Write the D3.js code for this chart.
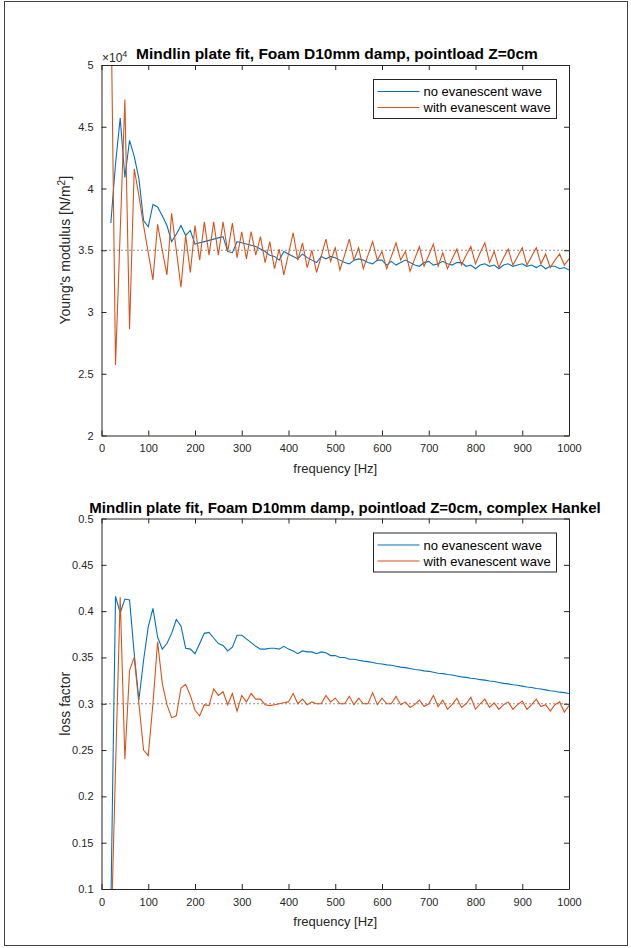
<!DOCTYPE html>
<html>
<head>
<meta charset="utf-8">
<script src="https://cdn.jsdelivr.net/npm/d3@7"></script>
<style>
  body { margin: 0; background: #fff; }
  svg { display: block; font-family: "Liberation Sans", Arial, sans-serif; }
</style>
</head>
<body>
<div id="chart"></div>
<script>

// frequency grid [Hz]
const freq = [20,30,40,50,60,70,80,90,100,110,120,130,140,150,160,170,180,190,200,210,
  220,230,240,250,260,270,280,290,300,310,320,330,340,350,360,370,380,390,400,410,
  420,430,440,450,460,470,480,490,500,510,520,530,540,550,560,570,580,590,600,610,
  620,630,640,650,660,670,680,690,700,710,720,730,740,750,760,770,780,790,800,810,
  820,830,840,850,860,870,880,890,900,910,920,930,940,950,960,970,980,990,1000];

// Young's modulus (x1e4) - no evanescent wave
const youngNoEva = [3.72,4.20,4.57,4.09,4.39,4.26,4.08,3.74,3.69,3.87,
  3.85,3.78,3.70,3.57,3.63,3.70,3.62,3.66,3.55,3.56,
  3.57,3.58,3.59,3.60,3.61,3.49,3.48,3.57,3.56,3.55,
  3.54,3.53,3.51,3.49,3.46,3.45,3.42,3.49,3.47,3.45,
  3.43,3.47,3.44,3.42,3.40,3.45,3.43,3.45,3.44,3.42,
  3.40,3.39,3.42,3.43,3.42,3.40,3.39,3.42,3.42,3.38,
  3.41,3.38,3.40,3.42,3.40,3.38,3.37,3.40,3.41,3.38,
  3.39,3.41,3.39,3.38,3.40,3.40,3.37,3.38,3.35,3.38,
  3.39,3.37,3.38,3.35,3.38,3.39,3.37,3.38,3.39,3.37,
  3.38,3.36,3.38,3.35,3.37,3.37,3.35,3.36,3.34];

// Young's modulus (x1e4) - with evanescent wave
const youngEva = [5.60,2.57,3.65,4.72,2.86,4.16,3.94,3.70,3.48,3.26,
  3.71,3.50,3.30,3.80,3.50,3.20,3.62,3.32,3.70,3.42,
  3.73,3.46,3.73,3.46,3.73,3.49,3.72,3.44,3.65,3.43,
  3.65,3.46,3.61,3.40,3.57,3.35,3.51,3.30,3.47,3.64,
  3.42,3.56,3.36,3.50,3.32,3.45,3.59,3.41,3.52,3.34,
  3.46,3.59,3.42,3.52,3.35,3.46,3.57,3.42,3.49,3.35,
  3.45,3.56,3.42,3.49,3.33,3.43,3.53,3.37,3.46,3.55,
  3.37,3.48,3.35,3.43,3.51,3.38,3.46,3.53,3.39,3.48,
  3.56,3.40,3.49,3.36,3.44,3.51,3.38,3.45,3.52,3.38,
  3.45,3.52,3.39,3.47,3.36,3.42,3.47,3.38,3.43];

// loss factor - no evanescent wave
const lossNoEva = [0.080,0.416,0.398,0.413,0.412,0.354,0.304,0.347,0.383,0.403,
  0.372,0.359,0.365,0.376,0.391,0.384,0.360,0.359,0.354,0.365,
  0.376,0.377,0.371,0.365,0.363,0.357,0.361,0.374,0.374,0.370,
  0.366,0.362,0.359,0.359,0.360,0.360,0.359,0.362,0.359,0.357,
  0.354,0.357,0.356,0.356,0.354,0.356,0.355,0.352,0.352,0.350,
  0.350,0.348,0.348,0.347,0.346,0.3455,0.3445,0.3435,0.343,0.342,
  0.3415,0.3405,0.3395,0.339,0.338,0.337,0.3365,0.3355,0.335,0.334,
  0.333,0.3325,0.3315,0.331,0.330,0.329,0.3285,0.3275,0.327,0.326,
  0.3255,0.3245,0.324,0.323,0.322,0.3215,0.3205,0.320,0.319,0.318,
  0.3175,0.3165,0.316,0.315,0.314,0.3135,0.3125,0.312,0.311];

// loss factor - with evanescent wave
const lossEva = [0.040,0.230,0.415,0.240,0.336,0.350,0.300,0.250,0.244,0.300,
  0.367,0.322,0.299,0.285,0.287,0.317,0.321,0.309,0.293,0.287,
  0.299,0.298,0.316,0.309,0.313,0.299,0.311,0.292,0.309,0.302,
  0.311,0.305,0.305,0.299,0.298,0.299,0.300,0.301,0.302,0.311,
  0.300,0.305,0.299,0.302,0.300,0.300,0.309,0.302,0.306,0.300,
  0.300,0.308,0.299,0.306,0.300,0.300,0.312,0.299,0.306,0.300,
  0.300,0.308,0.299,0.302,0.296,0.299,0.304,0.297,0.300,0.309,
  0.297,0.304,0.294,0.299,0.306,0.296,0.300,0.307,0.294,0.300,
  0.305,0.296,0.301,0.294,0.299,0.302,0.294,0.299,0.303,0.294,
  0.299,0.305,0.297,0.299,0.292,0.299,0.302,0.291,0.298];

const xTicks = [0,100,200,300,400,500,600,700,800,900,1000];
const youngTicks = [2,2.5,3,3.5,4,4.5,5];
const lossTicks = [0.1,0.15,0.2,0.25,0.3,0.35,0.4,0.45,0.5];
const seriesNames = ['no evanescent wave', 'with evanescent wave'];
const seriesColors = ['#0072BD', '#D95319'];

const width = 631;
const height = 948;
const left = 101.5;
const right = 569;
const plotH = 370.5;

const svg = d3.select('#chart')
              .append('svg')
              .attr('width', width)
              .attr('height', height);

svg.append('rect')
   .attr('x', 4.5).attr('y', 1.5)
   .attr('width', 623).attr('height', 944)
   .attr('fill', 'none')
   .attr('stroke', '#444')
   .attr('stroke-width', 1);

const x = d3.scaleLinear().domain([0, 1000]).range([left, right]);

const drawPanel = (id, top, yDomain, yTicks, series, refValue, title, titleSize, titleX, ylabel) => {
  const y = d3.scaleLinear().domain(yDomain).range([top + plotH, top]);
  const g = svg.append('g').attr('id', id);

  g.append('clipPath').attr('id', 'clip-' + id)
   .append('rect')
   .attr('x', left).attr('y', top)
   .attr('width', right - left).attr('height', plotH);

  // reference dotted line
  g.append('line')
   .attr('x1', x(0)).attr('x2', x(1000))
   .attr('y1', y(refValue)).attr('y2', y(refValue))
   .attr('stroke', '#222')
   .attr('stroke-width', 1)
   .attr('stroke-dasharray', '1,3');

  const line = d3.line()
                 .x((d, i) => x(freq[i]))
                 .y((d) => y(d));

  series.forEach((s, k) => {
    g.append('path')
     .datum(s)
     .attr('clip-path', 'url(#clip-' + id + ')')
     .attr('d', line)
     .attr('fill', 'none')
     .attr('stroke', seriesColors[k])
     .attr('stroke-width', 1.1);
  });

  // axes, ticks inside on all four sides
  const styleAxis = (sel) => {
    sel.select('.domain').attr('stroke', '#262626').attr('stroke-width', 1);
    sel.selectAll('.tick line').attr('stroke', '#262626');
    sel.selectAll('.tick text').attr('fill', '#262626').style('font-size', '11px');
  };

  g.append('g')
   .attr('transform', 'translate(0,' + (top + plotH) + ')')
   .call(d3.axisBottom(x).tickValues(xTicks).tickSizeInner(-5).tickSizeOuter(0)
           .tickPadding(9).tickFormat(d3.format('d')))
   .call(styleAxis);

  g.append('g')
   .attr('transform', 'translate(0,' + top + ')')
   .call(d3.axisTop(x).tickValues(xTicks).tickSizeInner(-5).tickSizeOuter(0).tickFormat(''))
   .call(styleAxis);

  g.append('g')
   .attr('transform', 'translate(' + left + ',0)')
   .call(d3.axisLeft(y).tickValues(yTicks).tickSizeInner(-5).tickSizeOuter(0)
           .tickPadding(8).tickFormat(d3.format('~g')))
   .call(styleAxis);

  g.append('g')
   .attr('transform', 'translate(' + right + ',0)')
   .call(d3.axisRight(y).tickValues(yTicks).tickSizeInner(-5).tickSizeOuter(0).tickFormat(''))
   .call(styleAxis);

  // x label
  g.append('text')
   .attr('x', (left + right) / 2)
   .attr('y', top + plotH + 37)
   .attr('text-anchor', 'middle')
   .style('font-size', '13px')
   .attr('fill', '#262626')
   .text('frequency [Hz]');

  // y label
  const yl = g.append('text')
   .attr('transform', 'translate(70,' + (top + plotH / 2) + ') rotate(-90)')
   .attr('text-anchor', 'middle')
   .style('font-size', '14px')
   .attr('fill', '#262626');
  ylabel(yl);

  // legend
  const lx = 373.5, ly = top + 14.5;
  g.append('rect')
   .attr('x', lx).attr('y', ly)
   .attr('width', 183).attr('height', 39)
   .attr('fill', '#fff')
   .attr('stroke', '#262626')
   .attr('stroke-width', 1);
  seriesNames.forEach((name, k) => {
    const rowY = ly + 12 + k * 16;
    g.append('line')
     .attr('x1', lx + 4).attr('x2', lx + 46)
     .attr('y1', rowY).attr('y2', rowY)
     .attr('stroke', seriesColors[k])
     .attr('stroke-width', 1.1);
    g.append('text')
     .attr('x', lx + 50).attr('y', rowY + 4.5)
     .style('font-size', '13px')
     .attr('fill', '#000')
     .text(name);
  });

  // title (drawn last so it sits on top)
  g.append('text')
   .attr('class', 'title')
   .attr('x', titleX)
   .attr('y', top - 6)
   .attr('text-anchor', 'middle')
   .style('font-size', titleSize)
   .style('font-weight', 'bold')
   .attr('fill', '#000')
   .text(title);
  return g;
};

// exponent label x10^4 (under the top title)
const expLabel = svg.append('text')
   .attr('x', 102).attr('y', 62)
   .style('font-size', '12px')
   .attr('fill', '#262626');
expLabel.append('tspan').text('\u00d710');
expLabel.append('tspan').attr('dy', -5).style('font-size', '9px').text('4');

drawPanel('young', 65, [2, 5], youngTicks,
  [youngNoEva, youngEva], 3.5,
  'Mindlin plate fit, Foam D10mm damp, pointload Z=0cm', '15.5px', 337,
  (t) => {
    t.append('tspan').text("Young's modulus [N/m");
    t.append('tspan').attr('dy', -5).style('font-size', '10px').text('2');
    t.append('tspan').attr('dy', 5).text(']');
  });

drawPanel('loss', 518.5, [0.1, 0.5], lossTicks,
  [lossNoEva, lossEva], 0.3,
  'Mindlin plate fit, Foam D10mm damp, pointload Z=0cm, complex Hankel', '15px', 345,
  (t) => t.text('loss factor'));

</script>
</body>
</html>
